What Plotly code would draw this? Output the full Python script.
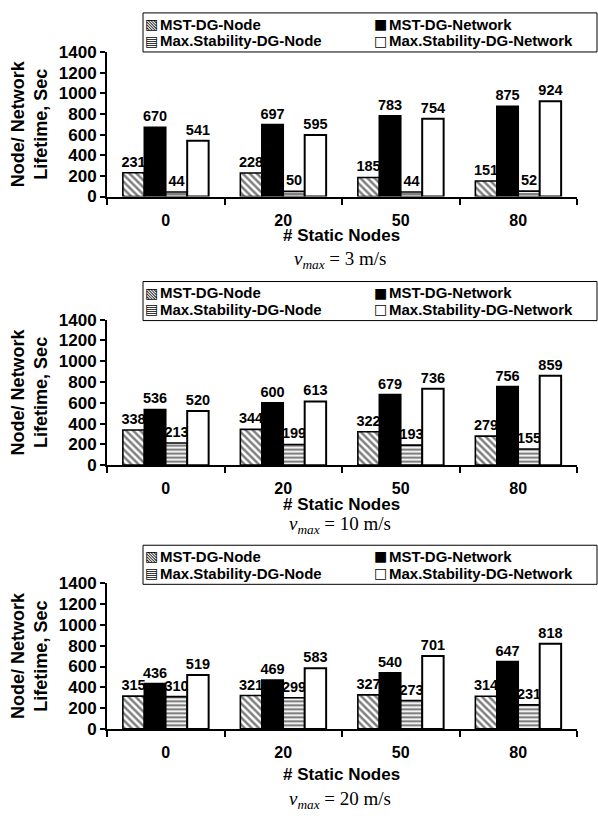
import plotly.graph_objects as go

# ---------------- data ----------------
categories = ["0", "20", "50", "80"]
series_names = ["MST-DG-Node", "MST-DG-Network",
                "Max.Stability-DG-Node", "Max.Stability-DG-Network"]
legend_icons = ["\u25A7", "\u25A0", "\u25A4", "\u25A1"]

# vmax = 3 m/s
v3_mst_node = [231, 228, 185, 151]
v3_mst_net = [670, 697, 783, 875]
v3_ms_node = [44, 50, 44, 52]
v3_ms_net = [541, 595, 754, 924]

# vmax = 10 m/s
v10_mst_node = [338, 344, 322, 279]
v10_mst_net = [536, 600, 679, 756]
v10_ms_node = [213, 199, 193, 155]
v10_ms_net = [520, 613, 736, 859]

# vmax = 20 m/s
v20_mst_node = [315, 321, 327, 314]
v20_mst_net = [436, 469, 540, 647]
v20_ms_node = [310, 299, 273, 231]
v20_ms_net = [519, 583, 701, 818]

vmax_labels = ["3", "10", "20"]
y_tick_vals = [0, 200, 400, 600, 800, 1000, 1200, 1400]

panels = [
    [v3_mst_node, v3_mst_net, v3_ms_node, v3_ms_net],
    [v10_mst_node, v10_mst_net, v10_ms_node, v10_ms_net],
    [v20_mst_node, v20_mst_net, v20_ms_node, v20_ms_net],
]

# ---------------- layout geometry (pixels) ----------------
W, H = 598, 818
X_LEFT, X_RIGHT = 107, 577
panel_geom = [
    dict(top=44, bottom=192, leg_top=4, title_off=39, vmax_off=63),
    dict(top=318, bottom=467, leg_top=279, title_off=39, vmax_off=60),
    dict(top=588, bottom=737, leg_top=549, title_off=46, vmax_off=71),
]
LEG_LEFT, LEG_RIGHT, LEG_H = 143, 597, 40
LEG_COL_X = [146, 375]       # icon left edge per column
LEG_ROW_DY = [11.5, 28.5]    # row centre below legend top

SANS = "Liberation Sans, Arial, sans-serif"
SERIF = "Liberation Serif, Times New Roman, serif"
ICON_FONT = "DejaVu Sans, sans-serif"

def style(i):
    line = dict(color="black", width=1.6)
    if i == 0:
        return dict(color="white", line=line,
                    pattern=dict(shape="\\", fgcolor="black", bgcolor="white",
                                 size=5, solidity=0.5))
    if i == 1:
        return dict(color="black", line=line)
    if i == 2:
        return dict(color="white", line=line,
                    pattern=dict(shape="-", fgcolor="black", bgcolor="white",
                                 size=4, solidity=0.55))
    return dict(color="white", line=dict(color="black", width=2))

fig = go.Figure()

for p, series in enumerate(panels):
    sfx = "" if p == 0 else str(p + 1)
    for i, vals in enumerate(series):
        fig.add_trace(go.Bar(
            x=categories, y=vals, name=series_names[i],
            marker=style(i),
            text=[str(v) for v in vals], textposition="outside",
            textfont=dict(family=SANS, size=14.5, color="black", weight="bold"),
            constraintext="none", cliponaxis=False,
            xaxis="x" + sfx, yaxis="y" + sfx,
            showlegend=False,
        ))

layout = dict(
    width=W, height=H,
    margin=dict(l=0, r=0, t=0, b=0),
    paper_bgcolor="white", plot_bgcolor="white",
    barmode="group", bargap=0.27, bargroupgap=0,
    showlegend=False,
    annotations=[], shapes=[],
)

for p, g in enumerate(panel_geom):
    sfx = "" if p == 0 else str(p + 1)
    ydom = [(H - g["bottom"]) / H, (H - g["top"]) / H]
    layout["xaxis" + sfx] = dict(
        domain=[X_LEFT / W, X_RIGHT / W], anchor="y" + sfx,
        type="category", showgrid=False, zeroline=False,
        showline=True, linecolor="black", linewidth=2,
        ticks="outside", tickson="boundaries", ticklen=6, tickwidth=2,
        tickcolor="black", ticklabelstandoff=8,
        tickfont=dict(family=SANS, size=16, color="black", weight="bold"),
    )
    layout["yaxis" + sfx] = dict(
        domain=ydom, anchor="x" + sfx, range=[0, 1400],
        tickvals=y_tick_vals, showgrid=False, zeroline=False,
        showline=True, linecolor="black", linewidth=2,
        ticks="outside", ticklen=5, tickwidth=1.5, tickcolor="black",
        ticksuffix="\u00a0\u00a0",
        tickfont=dict(family=SANS, size=17, color="black", weight="bold"),
    )
    # legend box
    lt = g["leg_top"]
    layout["shapes"].append(dict(
        type="rect", xref="paper", yref="paper",
        x0=LEG_LEFT / W, x1=LEG_RIGHT / W,
        y0=(H - lt - LEG_H) / H, y1=(H - lt) / H,
        line=dict(color="black", width=1), fillcolor="white", layer="above"))
    for k, name in enumerate(series_names):
        col, row = k % 2, k // 2
        yc = (H - lt - LEG_ROW_DY[row]) / H
        layout["annotations"].append(dict(
            text=legend_icons[k], xref="paper", x=(LEG_COL_X[col] + 5) / W,
            xanchor="center", yref="paper", y=yc, yanchor="middle",
            showarrow=False, borderpad=0,
            font=dict(family=ICON_FONT, size=14, color="black")))
        layout["annotations"].append(dict(
            text=name, xref="paper", x=(LEG_COL_X[col] + 13) / W,
            xanchor="left", yref="paper", y=yc, yanchor="middle",
            showarrow=False, borderpad=0,
            font=dict(family=SANS, size=15, color="black", weight="bold")))
    layout["annotations"] += [
        dict(text="Node/ Network<br>Lifetime, Sec", textangle=-90,
             xref="paper", x=29 / W, xanchor="center",
             yref="y" + sfx + " domain", y=0.5, yanchor="middle",
             showarrow=False,
             font=dict(family=SANS, size=18, color="black", weight="bold")),
        dict(text="# Static Nodes", xref="paper", x=(X_LEFT + X_RIGHT) / 2 / W,
             xanchor="center", yref="y" + sfx + " domain", y=0,
             yanchor="middle", yshift=-g["title_off"], showarrow=False,
             borderpad=0,
             font=dict(family=SANS, size=17, color="black", weight="bold")),
        dict(text="<i>v</i><sub><i>max</i></sub> = " + vmax_labels[p] + " m/s",
             xref="paper", x=340 / W, xanchor="center",
             yref="y" + sfx + " domain", y=0, yanchor="middle",
             yshift=-g["vmax_off"], showarrow=False, borderpad=0,
             font=dict(family=SERIF, size=19, color="black")),
    ]

fig.update_layout(**layout)
fig.write_html("out.html")
